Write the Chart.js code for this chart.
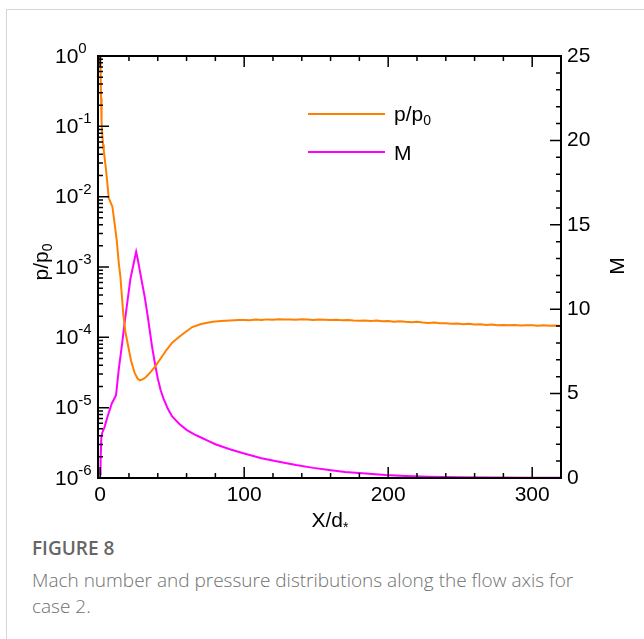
<!DOCTYPE html>
<html>
<head>
<meta charset="utf-8">
<script src="https://cdn.jsdelivr.net/npm/chart.js@4.4.1/dist/chart.umd.min.js"></script>
<style>
  html, body { margin: 0; padding: 0; background: #fff; }
  #page { position: relative; width: 644px; height: 639px; overflow: hidden; }
  #card { position: absolute; left: 6px; top: 9px; width: 700px; height: 700px; border: 1px solid #d6d6d6; }
  #wrap { position: absolute; left: 0; top: 0; width: 644px; height: 535px; }
  #caption { position: absolute; left: 32px; top: 535px; width: 565px; font-family: "Open Sans", sans-serif; color: #707070; font-size: 19px; line-height: 26px; font-weight: 300; }
  #caption b { font-weight: 600; color: #666; font-size: 19px; display: block; margin-bottom: 6px; }
</style>
</head>
<body>
<div id="page">
  <div id="card"></div>
  <div id="wrap"><canvas id="chart"></canvas></div>
  <div id="caption"><b>FIGURE 8</b>Mach number and pressure distributions along the flow axis for case 2.</div>
</div>
<script>
// pressure ratio p/p0 along the axis (left, log scale)
const xP = [0, 0.3, 0.6, 1, 1.5, 2, 2.5, 4, 6, 7, 8.5, 10, 11.5, 13, 14, 16, 17.5, 19.5, 21.5, 24, 26, 27.6, 29, 30.5, 32, 35, 38, 42, 46, 50, 55, 59, 64, 70, 78, 84, 90, 96,
  100, 104, 108, 112, 116, 120, 124, 128, 132, 136, 140, 144, 148, 152, 156, 160, 164, 168, 172, 176, 180, 184, 188, 192, 196, 200,
  204, 208, 212, 216, 220, 224, 228, 232, 236, 240, 244, 248, 252, 256, 260, 264, 268, 272, 276, 280, 284, 288, 292, 296, 300, 304, 308, 312, 316, 320];
const pRatio = [1.0, 0.6, 0.25, 0.11, 0.075, 0.055, 0.045, 0.025, 0.0095, 0.0085, 0.0072, 0.0042, 0.0024, 0.0011, 7.5e-4, 2.2e-4, 1.2e-4, 7.4e-5, 4.6e-5, 3.1e-5, 2.6e-5, 2.45e-5, 2.5e-5, 2.6e-5, 2.75e-5, 3.2e-5, 3.8e-5, 5.0e-5, 6.6e-5, 8.4e-5, 1.02e-4, 1.18e-4, 1.4e-4, 1.55e-4, 1.66e-4, 1.71e-4, 1.74e-4, 1.76e-4,
  1.77e-4, 1.75e-4, 1.79e-4, 1.76e-4, 1.80e-4, 1.78e-4, 1.81e-4, 1.79e-4, 1.80e-4, 1.78e-4, 1.81e-4, 1.79e-4, 1.77e-4, 1.80e-4, 1.78e-4, 1.76e-4, 1.78e-4, 1.75e-4, 1.77e-4, 1.74e-4, 1.72e-4, 1.74e-4, 1.71e-4, 1.73e-4, 1.69e-4, 1.70e-4,
  1.67e-4, 1.69e-4, 1.66e-4, 1.64e-4, 1.66e-4, 1.62e-4, 1.60e-4, 1.62e-4, 1.58e-4, 1.59e-4, 1.56e-4, 1.57e-4, 1.54e-4, 1.56e-4, 1.52e-4, 1.53e-4, 1.50e-4, 1.52e-4, 1.49e-4, 1.50e-4, 1.48e-4, 1.50e-4, 1.47e-4, 1.49e-4, 1.48e-4, 1.46e-4, 1.49e-4, 1.46e-4, 1.47e-4, 1.45e-4];

// Mach number along the axis (right scale)
const xM = [0, 0.3, 0.8, 1.5, 3, 5, 8, 11, 13, 15, 17, 19, 21, 23, 25, 26, 27.5, 29, 31, 33, 34, 36, 38, 40, 42, 44, 47, 50, 55, 60, 65, 70, 75, 80, 90, 100,
  112, 125, 136, 148, 159, 170, 182, 198, 212, 228, 250, 274, 300, 320];
const mach = [0.2, 1.0, 2.4, 2.7, 3.0, 3.6, 4.4, 4.9, 6.5, 7.8, 9.2, 10.5, 11.8, 12.6, 13.4, 13.0, 12.3, 11.6, 10.7, 9.6, 9.0, 7.8, 6.8, 5.9, 5.2, 4.7, 4.1, 3.65, 3.2, 2.85, 2.6, 2.4, 2.2, 2.0, 1.7, 1.45,
  1.17, 0.95, 0.77, 0.6, 0.47, 0.36, 0.28, 0.18, 0.12, 0.08, 0.05, 0.03, 0.015, 0.01];

const xTicks = [0, 100, 200, 300];
const machTicks = [0, 5, 10, 15, 20, 25];
const decades = [0, -1, -2, -3, -4, -5, -6];

const FONT = '"Liberation Sans", Arial, sans-serif';

function textWithSub(ctx, parts, x, y, align) {
  // parts: [text, size, dy]
  let total = 0;
  parts.forEach(p => { ctx.font = p[1] + 'px ' + FONT; total += ctx.measureText(p[0]).width; });
  let cx = align === 'center' ? x - total / 2 : x;
  parts.forEach(p => {
    ctx.font = p[1] + 'px ' + FONT;
    ctx.fillText(p[0], cx, y + p[2]);
    cx += ctx.measureText(p[0]).width;
  });
}

const framePlugin = {
  id: 'frame',
  afterDraw(chart) {
    const ctx = chart.ctx;
    const a = chart.chartArea;
    const xs = chart.scales.x, ys = chart.scales.y, ms = chart.scales.y1;
    ctx.save();
    ctx.strokeStyle = '#000';
    ctx.fillStyle = '#000';
    ctx.lineWidth = 2;
    ctx.strokeRect(a.left, a.top, a.right - a.left, a.bottom - a.top);

    ctx.lineWidth = 1.5;
    ctx.beginPath();
    // x ticks, bottom and top
    for (let v = 0; v <= 320; v += 20) {
      const px = xs.getPixelForValue(v);
      const len = v % 100 === 0 ? 11 : 5;
      ctx.moveTo(px, a.bottom); ctx.lineTo(px, a.bottom - len);
      ctx.moveTo(px, a.top); ctx.lineTo(px, a.top + len);
    }
    // log ticks on the left
    decades.forEach(e => {
      const py = ys.getPixelForValue(Math.pow(10, e));
      ctx.moveTo(a.left, py); ctx.lineTo(a.left + 11, py);
      if (e < 0) {
        for (let k = 2; k <= 9; k++) {
          const pm = ys.getPixelForValue(k * Math.pow(10, e));
          ctx.moveTo(a.left, pm); ctx.lineTo(a.left + 5, pm);
        }
      }
    });
    // Mach ticks on the right
    for (let v = 0; v <= 25; v++) {
      const py = ms.getPixelForValue(v);
      const len = v % 5 === 0 ? 11 : 5;
      ctx.moveTo(a.right, py); ctx.lineTo(a.right - len, py);
    }
    ctx.stroke();

    // left tick labels 10^n
    ctx.textBaseline = 'middle';
    ctx.textAlign = 'left';
    decades.forEach(e => {
      const py = ys.getPixelForValue(Math.pow(10, e));
      ctx.font = '21px ' + FONT;
      ctx.fillText('10', 55, py + 1);
      const w = ctx.measureText('10').width;
      ctx.font = '15px ' + FONT;
      ctx.fillText(e === 0 ? '0' : '-' + (-e), 55 + w, py - 7);
    });

    // axis titles
    ctx.textBaseline = 'alphabetic';
    textWithSub(ctx, [['X/d', 21, 0], ['*', 14, 5]], 330, 527, 'center');

    ctx.save();
    ctx.translate(48, 262);
    ctx.rotate(-Math.PI / 2);
    textWithSub(ctx, [['p/p', 21, 0], ['0', 14, 4]], 0, 0, 'center');
    ctx.restore();

    ctx.save();
    ctx.translate(624, 266);
    ctx.rotate(-Math.PI / 2);
    textWithSub(ctx, [['M', 21, 0]], 0, 0, 'center');
    ctx.restore();

    // legend
    ctx.lineWidth = 2;
    ctx.strokeStyle = '#ff8000';
    ctx.beginPath(); ctx.moveTo(308, 114); ctx.lineTo(385, 114); ctx.stroke();
    ctx.strokeStyle = '#ff00ff';
    ctx.beginPath(); ctx.moveTo(308, 152); ctx.lineTo(385, 152); ctx.stroke();
    textWithSub(ctx, [['p/p', 21, 0], ['0', 14, 4]], 394, 121, 'left');
    textWithSub(ctx, [['M', 21, 0]], 394, 160, 'left');
    ctx.restore();
  }
};

new Chart(document.getElementById('chart'), {
  type: 'line',
  data: {
    datasets: [
      {
        label: 'p/p0',
        data: xP.map((x, i) => ({ x: x, y: pRatio[i] })),
        borderColor: '#ff8000',
        borderWidth: 2,
        pointRadius: 0,
        tension: 0,
        yAxisID: 'y'
      },
      {
        label: 'M',
        data: xM.map((x, i) => ({ x: x, y: mach[i] })),
        borderColor: '#ff00ff',
        borderWidth: 2,
        pointRadius: 0,
        tension: 0,
        yAxisID: 'y1'
      }
    ]
  },
  options: {
    responsive: true,
    maintainAspectRatio: false,
    animation: false,
    layout: { padding: { top: 56, left: 0, right: 0, bottom: 0 } },
    plugins: { legend: { display: false }, tooltip: { enabled: false } },
    scales: {
      x: {
        type: 'linear',
        min: -1.5,
        max: 320,
        afterBuildTicks: s => { s.ticks = xTicks.map(v => ({ value: v })); },
        afterFit: s => { s.height = 57; },
        grid: { display: false, drawTicks: false },
        border: { display: false },
        ticks: { color: '#000', padding: 5, font: { size: 21, family: FONT }, maxRotation: 0 }
      },
      y: {
        type: 'logarithmic',
        position: 'left',
        min: 1e-6,
        max: 1,
        afterFit: s => { s.width = 98; },
        grid: { display: false, drawTicks: false },
        border: { display: false },
        ticks: { display: false }
      },
      y1: {
        type: 'linear',
        position: 'right',
        min: 0,
        max: 25,
        afterBuildTicks: s => { s.ticks = machTicks.map(v => ({ value: v })); },
        afterFit: s => { s.width = 83; },
        grid: { display: false, drawTicks: false },
        border: { display: false },
        ticks: { color: '#000', padding: 6, font: { size: 21, family: FONT } }
      }
    }
  },
  plugins: [framePlugin]
});
</script>
</body>
</html>
